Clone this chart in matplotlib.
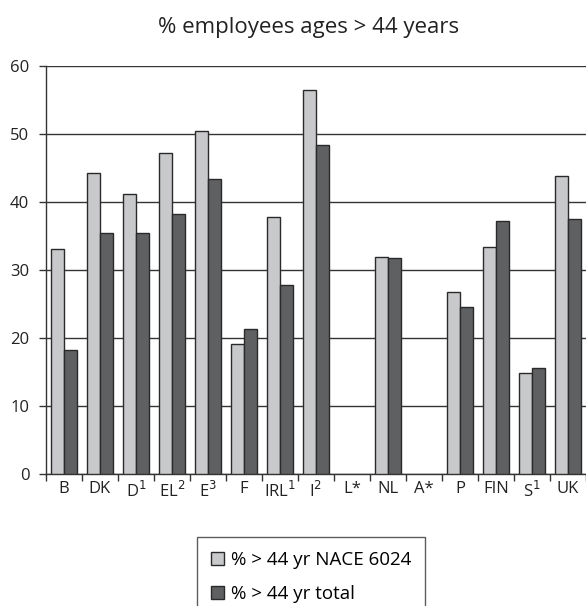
import matplotlib
matplotlib.use('Agg')
import matplotlib.pyplot as plt
import numpy as np

plt.rcParams['font.family'] = ['Open Sans', 'DejaVu Sans']

# data
countries = ['B', 'DK', 'D$^1$', 'EL$^2$', 'E$^3$', 'F', 'IRL$^1$', 'I$^2$',
             'L*', 'NL', 'A*', 'P', 'FIN', 'S$^1$', 'UK']
nace_6024 = [33.1, 44.3, 41.2, 47.2, 50.4, 19.1, 37.8, 56.4,
             np.nan, 31.9, np.nan, 26.8, 33.4, 14.9, 43.8]
total = [18.2, 35.4, 35.4, 38.3, 43.4, 21.3, 27.8, 48.4,
         np.nan, 31.7, np.nan, 24.6, 37.2, 15.6, 37.5]
y_ticks = [0, 10, 20, 30, 40, 50, 60]

light = '#c8c9cb'
dark = '#5f6062'
edge = '#2a2a2a'

fig = plt.figure(figsize=(5.86, 6.06), dpi=100)
ax = fig.add_axes([46 / 586, 1 - 474 / 606, 540 / 586, 408 / 606])

x = np.arange(len(countries))
w = 0.36
ax.bar(x - w / 2, nace_6024, w, color=light, edgecolor=edge, linewidth=1.0,
       label='% > 44 yr NACE 6024', zorder=3)
ax.bar(x + w / 2, total, w, color=dark, edgecolor=edge, linewidth=1.0,
       label='% > 44 yr total', zorder=3)

ax.set_ylim(0, 60)
ax.set_xlim(-0.5, len(countries) - 0.5)
ax.set_yticks(y_ticks)
ax.yaxis.grid(True, color='#333333', linewidth=1.0, zorder=0)
ax.tick_params(axis='y', length=5, width=1, color='#333333', labelsize=12,
               labelcolor='#222222', pad=7)

# category boundary ticks, labels centred between them
ax.set_xticks(np.arange(len(countries) + 1) - 0.5)
ax.set_xticklabels([])
ax.set_xticks(x, minor=True)
ax.set_xticklabels(countries, minor=True, fontsize=12, color='#222222')
ax.tick_params(axis='x', which='major', length=5, width=1, color='#333333')
ax.tick_params(axis='x', which='minor', length=0, pad=5)

for s in ['top', 'right']:
    ax.spines[s].set_visible(False)
for s in ['left', 'bottom']:
    ax.spines[s].set_color('#333333')
    ax.spines[s].set_linewidth(1.0)

fig.text(309 / 586, 1 - 27 / 606, '% employees ages > 44 years', ha='center',
         va='center', fontsize=16, color='#222222')

leg = fig.legend(loc='upper left', bbox_to_anchor=(197 / 586, 1 - 537 / 606),
                 fontsize=13.5, frameon=True, fancybox=False, edgecolor='#333333',
                 handlelength=0.7, handleheight=0.7, handletextpad=0.35,
                 labelspacing=0.85, borderpad=0.75, borderaxespad=0)
leg.get_frame().set_linewidth(1.0)

fig.savefig('out.png', dpi=100)
